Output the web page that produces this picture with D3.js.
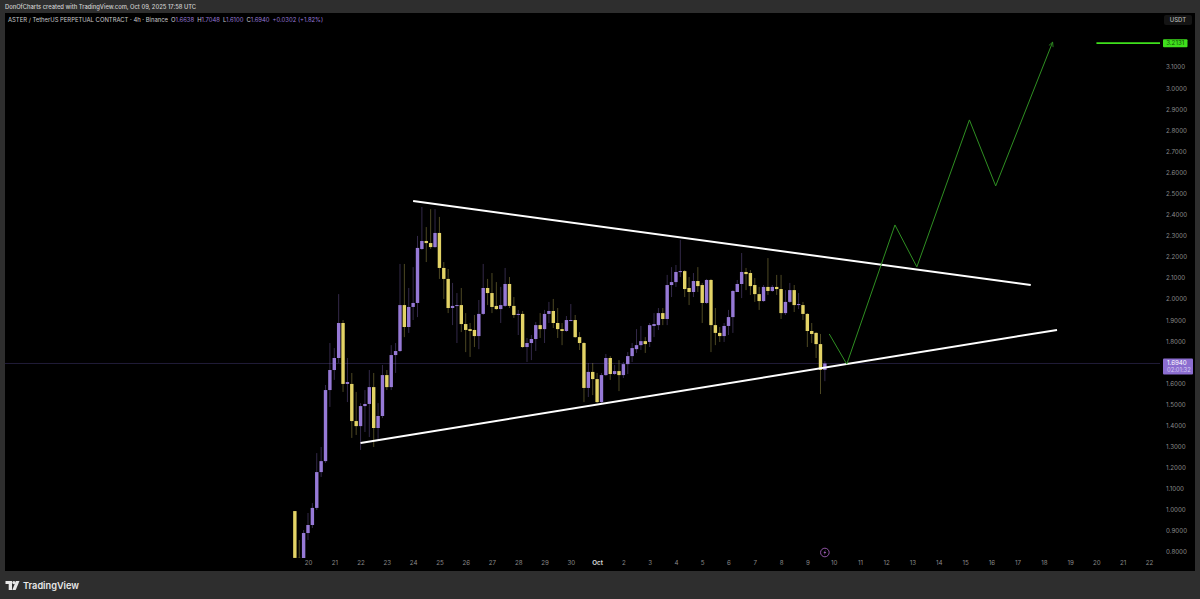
<!DOCTYPE html>
<html>
<head>
<meta charset="utf-8">
<script src="https://cdn.jsdelivr.net/npm/d3@7"></script>
<style>
  html, body { margin: 0; padding: 0; background: #2e2e2e; overflow: hidden; }
  text { font-family: Inter, "Noto Sans", sans-serif; }
  .axis path, .axis line { display: none; }
  .axis text { fill: #8a8a8a; font-size: 6.2px; font-family: Inter, sans-serif; }
</style>
</head>
<body>
<div id="chart"></div>
<script>
// 4h candles, first one opens Sep 19 12:00 UTC
var firstCandle = Date.UTC(2025, 8, 19, 12);
var opens = [0.994,0.772,0.75,0.890,0.928,1.009,1.179,1.231,1.568,1.663,1.720,1.886,1.597,1.597,1.421,1.397,1.492,1.502,1.582,1.388,
  1.445,1.639,1.582,1.734,1.753,1.971,1.867,1.962,1.981,2.237,2.275,2.265,2.246,2.313,2.147,2.095,1.957,1.967,1.971,1.881,
  1.857,1.853,1.824,1.929,2.052,2.028,1.967,1.952,1.967,2.071,1.967,1.924,1.929,1.772,1.791,1.810,1.876,1.857,1.929,1.943,
  1.886,1.857,1.848,1.898,1.900,1.819,1.791,1.578,1.654,1.620,1.511,1.639,1.720,1.644,1.658,1.639,1.691,1.729,1.762,1.781,
  1.800,1.796,1.872,1.876,1.933,1.905,2.066,2.080,2.128,2.132,2.052,2.033,2.085,2.066,1.981,2.090,1.876,1.839,1.824,1.872,
  1.914,2.033,2.071,2.128,2.123,2.066,2.023,1.990,2.057,2.038,2.057,2.047,1.933,1.986,2.042,1.971,1.971,1.929,1.848,1.839,
  1.786,1.6638];
var highs = [0.994,0.857,0.904,0.985,1.032,1.269,1.298,1.592,1.791,1.767,2.023,1.900,1.720,1.649,1.559,1.506,1.568,1.663,1.649,1.506,
  1.687,1.663,1.781,1.791,2.166,2.166,2.052,2.151,2.299,2.436,2.341,2.426,2.426,2.389,2.175,2.142,2.076,2.028,2.052,1.933,
  1.886,1.924,1.995,2.166,2.095,2.123,2.080,2.057,2.147,2.104,2.009,1.948,1.943,1.815,1.829,1.891,1.933,1.948,1.986,2.000,
  1.957,1.886,1.919,1.976,1.924,1.843,1.796,1.696,1.696,1.649,1.649,1.739,1.729,1.687,1.710,1.701,1.748,1.791,1.857,1.872,
  1.819,1.886,1.933,1.957,1.957,2.114,2.151,2.161,2.280,2.137,2.104,2.123,2.151,2.076,2.095,2.095,1.957,1.867,1.886,1.948,
  2.042,2.090,2.218,2.147,2.137,2.099,2.057,2.066,2.194,2.066,2.114,2.114,2.042,2.076,2.066,2.028,1.986,1.933,1.886,1.843,
  1.834,1.7048];
var lows = [0.772,0.74,0.74,0.857,0.914,0.999,1.156,1.222,1.488,1.616,1.696,1.559,1.511,1.341,1.355,1.284,1.369,1.345,1.298,1.331,
  1.435,1.568,1.568,1.649,1.748,1.819,1.839,1.900,1.914,2.232,2.175,2.237,2.242,2.095,2.000,1.933,1.876,1.791,1.843,1.748,
  1.725,1.772,1.762,1.924,1.971,1.933,1.948,1.886,1.962,1.957,1.910,1.829,1.767,1.701,1.710,1.753,1.815,1.791,1.886,1.862,
  1.815,1.781,1.843,1.895,1.815,1.758,1.511,1.535,1.544,1.506,1.506,1.634,1.616,1.639,1.563,1.625,1.644,1.701,1.744,1.758,
  1.744,1.772,1.819,1.853,1.876,1.876,2.009,2.057,2.104,2.009,1.971,2.009,2.033,1.886,1.976,1.748,1.781,1.796,1.796,1.829,
  1.839,2.033,2.004,2.042,2.019,1.986,1.948,1.986,2.019,2.033,2.019,1.905,1.924,1.981,1.938,1.952,1.900,1.772,1.791,1.720,
  1.549,1.61];
var closes = [0.772,0.75,0.890,0.928,1.009,1.179,1.231,1.568,1.663,1.720,1.886,1.597,1.606,1.421,1.397,1.492,1.502,1.582,1.388,1.445,
  1.639,1.582,1.734,1.753,1.971,1.867,1.962,1.981,2.242,2.275,2.265,2.246,2.313,2.147,2.095,1.957,1.967,1.971,1.881,1.853,
  1.848,1.824,1.929,2.052,2.028,1.962,1.952,1.971,2.071,1.967,1.924,1.929,1.772,1.791,1.810,1.876,1.857,1.929,1.943,1.886,
  1.857,1.848,1.900,1.900,1.819,1.791,1.578,1.654,1.620,1.511,1.639,1.720,1.644,1.658,1.639,1.691,1.729,1.767,1.781,1.800,
  1.786,1.876,1.881,1.933,1.905,2.066,2.080,2.128,2.132,2.047,2.033,2.085,2.061,1.981,2.090,1.876,1.839,1.824,1.872,1.914,
  2.038,2.071,2.128,2.118,2.061,2.023,1.990,2.057,2.038,2.057,2.047,1.933,1.986,2.042,1.971,1.976,1.929,1.848,1.834,1.786,
  1.664,1.694];

var priceTicks = [0.8,0.9,1.0,1.1,1.2,1.3,1.4,1.5,1.6,1.8,1.9,2.0,2.1,2.2,2.3,2.4,2.5,2.6,2.7,2.8,2.9,3.0,3.1];
var dayTicks = ["2025-09-20","2025-09-21","2025-09-22","2025-09-23","2025-09-24","2025-09-25","2025-09-26","2025-09-27","2025-09-28","2025-09-29","2025-09-30",
  "2025-10-01","2025-10-02","2025-10-03","2025-10-04","2025-10-05","2025-10-06","2025-10-07","2025-10-08","2025-10-09","2025-10-10","2025-10-11",
  "2025-10-12","2025-10-13","2025-10-14","2025-10-15","2025-10-16","2025-10-17","2025-10-18","2025-10-19","2025-10-20","2025-10-21","2025-10-22"].map(d => new Date(d));

// drawings on the chart
var upperTrend = [["2025-09-24T00:00Z", 2.464], ["2025-10-17T12:00Z", 2.066]];
var lowerTrend = [["2025-09-22T00:00Z", 1.317], ["2025-10-18T12:00Z", 1.853]];
var projection = [["2025-10-09T20:00Z", 1.834], ["2025-10-10T12:00Z", 1.691], ["2025-10-12T08:00Z", 2.351], ["2025-10-13T04:00Z", 2.152],
  ["2025-10-15T04:00Z", 2.849], ["2025-10-16T04:00Z", 2.536], ["2025-10-18T08:00Z", 3.218]];
var targetLine = [["2025-10-20T00:00Z", 3.2131], ["2025-10-22T16:00Z", 3.2131]];
var lastPrice = 1.694;
var targetPrice = 3.2131;

var svgWidth = 1200;
var svgHeight = 599;
var purple = "#9679d6";
var yellow = "#e3d366";

var svg = d3.select("#chart")
  .append("svg")
  .attr("width", svgWidth)
  .attr("height", svgHeight)
  .style("display", "block");

var xScale = d3.scaleUtc()
  .domain([new Date("2025-09-20"), new Date("2025-10-22")])
  .range([308, 1149]);

var yScale = d3.scaleLinear()
  .domain([0.8, 3.1])
  .range([552, 67]);

// panel
svg.append("rect").attr("x", 5).attr("y", 13).attr("width", 1190).attr("height", 558).attr("fill", "#000");

svg.append("defs").append("clipPath").attr("id", "pane")
  .append("rect").attr("x", 5).attr("y", 13).attr("width", 1155).attr("height", 545);

var marker = svg.select("defs").append("marker")
  .attr("id", "arrow")
  .attr("viewBox", "0 0 8 8")
  .attr("refX", 7).attr("refY", 4)
  .attr("markerWidth", 6).attr("markerHeight", 6)
  .attr("markerUnits", "userSpaceOnUse")
  .attr("orient", "auto");
marker.append("path").attr("d", "M1,1 L7,4 L1,7").attr("fill", "none").attr("stroke", "#2f8f22").attr("stroke-width", 1);

var pane = svg.append("g").attr("clip-path", "url(#pane)");

// last price line
pane.append("line")
  .attr("x1", 5).attr("x2", 1160)
  .attr("y1", yScale(lastPrice)).attr("y2", yScale(lastPrice))
  .attr("stroke", "#201c38").attr("stroke-width", 1);

// candles
var candles = pane.selectAll("g.candle")
  .data(opens.map((o, i) => i))
  .enter()
  .append("g")
  .attr("class", "candle");

var candleX = i => xScale(new Date(firstCandle + i * 4 * 3600 * 1000));
var candleColor = i => closes[i] >= opens[i] ? purple : yellow;

candles.append("line")
  .attr("x1", candleX).attr("x2", candleX)
  .attr("y1", i => yScale(highs[i])).attr("y2", i => yScale(lows[i]))
  .attr("stroke", candleColor)
  .attr("stroke-opacity", 0.34)
  .attr("stroke-width", 1);

candles.append("rect")
  .attr("x", i => candleX(i) - 1.7)
  .attr("width", 3.4)
  .attr("y", i => yScale(Math.max(opens[i], closes[i])))
  .attr("height", i => Math.max(1, Math.abs(yScale(opens[i]) - yScale(closes[i]))))
  .attr("fill", candleColor);

// trend lines and projected path
var lineGen = d3.line()
  .x(d => xScale(new Date(d[0])))
  .y(d => yScale(d[1]));

[upperTrend, lowerTrend].forEach(function(t) {
  pane.append("path").attr("d", lineGen(t))
    .attr("fill", "none").attr("stroke", "#fff").attr("stroke-width", 2);
});

pane.append("path").attr("d", lineGen(projection))
  .attr("fill", "none").attr("stroke", "#2f8f22").attr("stroke-width", 1)
  .attr("marker-end", "url(#arrow)");

pane.append("path").attr("d", lineGen(targetLine))
  .attr("fill", "none").attr("stroke", "#3fe01c").attr("stroke-width", 1.6);

// price axis
var rightAxis = d3.axisRight(yScale)
  .tickValues(priceTicks)
  .tickSize(0)
  .tickPadding(0)
  .tickFormat(d3.format(".4f"));

svg.append("g")
  .attr("class", "axis")
  .attr("transform", "translate(1166, 0)")
  .call(rightAxis);

// time axis, the month tick is brighter
var bottomAxis = d3.axisBottom(xScale)
  .tickValues(dayTicks)
  .tickSize(0)
  .tickPadding(0)
  .tickFormat(d => d.getUTCDate() == 1 ? "Oct" : d.getUTCDate());

var timeAxis = svg.append("g")
  .attr("class", "axis")
  .attr("transform", "translate(0, 561)")
  .call(bottomAxis);

timeAxis.selectAll("text")
  .filter(d => d.getUTCDate() == 1)
  .style("fill", "#e0e0e0")
  .style("font-weight", 600);

// USDT button
svg.append("rect").attr("x", 1164).attr("y", 15).attr("width", 28).attr("height", 10).attr("rx", 2).attr("fill", "#141414");
svg.append("text").attr("x", 1178).attr("y", 22.3).attr("text-anchor", "middle")
  .attr("font-size", 6).attr("font-weight", 500).attr("fill", "#b5b5b5").text("USDT");

// target price label
svg.append("rect").attr("x", 1163).attr("y", yScale(targetPrice) - 4).attr("width", 24.5).attr("height", 8).attr("rx", 1).attr("fill", "#3fe01c");
svg.append("text").attr("x", 1175.2).attr("y", yScale(targetPrice) + 2.3).attr("text-anchor", "middle")
  .attr("font-size", 6.2).attr("fill", "#11500a").text(d3.format(".4f")(targetPrice));

// last price label
svg.append("rect").attr("x", 1163).attr("y", yScale(lastPrice) - 5).attr("width", 30).attr("height", 16).attr("rx", 1).attr("fill", "#8b6dcf");
svg.append("text").attr("x", 1167).attr("y", yScale(lastPrice) + 2).attr("font-size", 6.2).attr("fill", "#fff").text(d3.format(".4f")(lastPrice));
svg.append("text").attr("x", 1167).attr("y", yScale(lastPrice) + 9).attr("font-size", 5.8).attr("fill", "#d7cbf3").text("02:01:32");

// lightning event icon
var icon = svg.append("g").attr("transform", `translate(${xScale(new Date("2025-10-09T16:00Z"))}, 552.5)`);
icon.append("circle").attr("r", 4.3).attr("fill", "#000").attr("stroke", "#a05fb8").attr("stroke-width", 0.9);
icon.append("path").attr("d", "M0.8,-2.4 L-1.4,0.4 L-0.1,0.4 L-0.8,2.4 L1.4,-0.4 L0.1,-0.4 Z").attr("fill", "#a05fb8");

// header
svg.append("text").attr("x", 5).attr("y", 9).attr("font-size", 5.8).attr("font-weight", 500).attr("fill", "#d0d0d0")
  .text("DonOfCharts created with TradingView.com, Oct 09, 2025 17:58 UTC");

var legend = svg.append("text").attr("x", 8).attr("y", 21.5).attr("font-size", 5.9).attr("fill", "#c8c8c8")
  .attr("xml:space", "preserve");
legend.append("tspan").text("ASTER / TetherUS PERPETUAL CONTRACT · 4h · Binance");
[["O", "1.6638"], ["H", "1.7048"], ["L", "1.6100"], ["C", "1.6940"]].forEach(function(p) {
  legend.append("tspan").attr("dx", 3).text(p[0]);
  legend.append("tspan").attr("fill", purple).text(p[1]);
});
legend.append("tspan").attr("dx", 3).attr("fill", purple).text("+0.0302 (+1.82%)");

// TradingView logo
var logo = svg.append("g").attr("transform", "translate(5.5, 581)").attr("fill", "#e8e8e8");
logo.append("path").attr("d", "M0,0 H6.5 V9 H3.2 V3 H0 Z");
logo.append("circle").attr("cx", 8.4).attr("cy", 1.6).attr("r", 1.6);
logo.append("path").attr("d", "M14,0 L10.2,9 H6.8 L10.4,0 Z");
svg.append("text").attr("x", 23).attr("y", 589).attr("font-size", 9.2).attr("font-weight", 600).attr("fill", "#e8e8e8").text("TradingView");
</script>
</body>
</html>
